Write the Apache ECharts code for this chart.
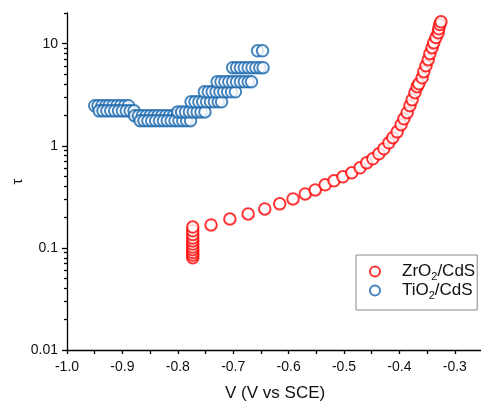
<!DOCTYPE html>
<html>
<head>
<meta charset="utf-8">
<script src="https://cdn.jsdelivr.net/npm/echarts@6/dist/echarts.min.js"></script>
<style>
  html, body { margin: 0; padding: 0; background: #fff; }
  #chart { width: 481px; height: 403px; }
</style>
</head>
<body>
<div id="chart"></div>
<script>
// ZrO2/CdS (red) - voltage and tau
const zrV = [
  -0.773, -0.773, -0.773, -0.773, -0.773, -0.773, -0.773, -0.773, -0.773, -0.773, -0.773,
  -0.740, -0.706, -0.673, -0.643, -0.616, -0.592, -0.570, -0.552, -0.534, -0.518,
  -0.502, -0.486, -0.471, -0.459, -0.448, -0.437, -0.428, -0.419, -0.412, -0.404,
  -0.397, -0.392, -0.386, -0.381, -0.377, -0.372, -0.368, -0.365, -0.359, -0.356,
  -0.352, -0.348, -0.345, -0.341, -0.338, -0.334, -0.330, -0.329, -0.327, -0.325
];
const zrTau = [
  0.080, 0.085, 0.090, 0.096, 0.102, 0.109, 0.117, 0.125, 0.135, 0.147, 0.160,
  0.168, 0.192, 0.215, 0.241, 0.270, 0.302, 0.338, 0.370, 0.415, 0.454,
  0.497, 0.544, 0.609, 0.681, 0.746, 0.835, 0.935, 1.07, 1.20, 1.37,
  1.61, 1.84, 2.11, 2.47, 2.82, 3.31, 3.79, 4.05, 4.64, 5.32,
  6.08, 6.97, 7.98, 9.14, 10.2, 11.5, 12.8, 14.0, 15.4, 16.4
];

// TiO2/CdS (blue)
const tiV = [
  -0.950, -0.944, -0.937, -0.930, -0.924, -0.917, -0.910, -0.903, -0.896, -0.889,
  -0.942, -0.935, -0.928, -0.921, -0.914, -0.907, -0.900, -0.893, -0.886, -0.879,
  -0.878, -0.871, -0.864, -0.857, -0.850, -0.843, -0.836, -0.829, -0.822, -0.815, -0.808, -0.801, -0.794,
  -0.868, -0.861, -0.854, -0.847, -0.840, -0.833, -0.826, -0.819, -0.812, -0.805, -0.798, -0.791, -0.784, -0.777,
  -0.800, -0.793, -0.786, -0.779, -0.772, -0.765, -0.758, -0.751,
  -0.776, -0.769, -0.762, -0.755, -0.748, -0.741, -0.734, -0.727, -0.721,
  -0.752, -0.745, -0.738, -0.731, -0.724, -0.717, -0.710, -0.703, -0.696,
  -0.729, -0.722, -0.715, -0.708, -0.701, -0.694, -0.687, -0.680, -0.673, -0.667,
  -0.701, -0.694, -0.687, -0.680, -0.673, -0.666, -0.659, -0.652, -0.646,
  -0.656, -0.647
];
const tiTau = [
  2.47, 2.47, 2.47, 2.47, 2.47, 2.47, 2.47, 2.47, 2.47, 2.47,
  2.20, 2.20, 2.20, 2.20, 2.20, 2.20, 2.20, 2.20, 2.20, 2.20,
  1.97, 1.97, 1.97, 1.97, 1.97, 1.97, 1.97, 1.97, 1.97, 1.97, 1.97, 1.97, 1.97,
  1.76, 1.76, 1.76, 1.76, 1.76, 1.76, 1.76, 1.76, 1.76, 1.76, 1.76, 1.76, 1.76, 1.76,
  2.15, 2.15, 2.15, 2.15, 2.15, 2.15, 2.15, 2.15,
  2.70, 2.70, 2.70, 2.70, 2.70, 2.70, 2.70, 2.70, 2.70,
  3.38, 3.38, 3.38, 3.38, 3.38, 3.38, 3.38, 3.38, 3.38,
  4.24, 4.24, 4.24, 4.24, 4.24, 4.24, 4.24, 4.24, 4.24, 4.24,
  5.82, 5.82, 5.82, 5.82, 5.82, 5.82, 5.82, 5.82, 5.82,
  8.53, 8.53
];

const xTicks = [-1.0, -0.9, -0.8, -0.7, -0.6, -0.5, -0.4, -0.3];
const xAllTicks = [
  -1.0, -0.95, -0.9, -0.85, -0.8, -0.75, -0.7, -0.65,
  -0.6, -0.55, -0.5, -0.45, -0.4, -0.35, -0.3
];
const yTicks = [0.01, 0.1, 1, 10];
const yMinorTicks = [
  0.02, 0.03, 0.04, 0.05, 0.06, 0.07, 0.08, 0.09,
  0.2, 0.3, 0.4, 0.5, 0.6, 0.7, 0.8, 0.9,
  2, 3, 4, 5, 6, 7, 8, 9, 20
];

const font = 'Liberation Sans, Arial, sans-serif';
const zip = (xs, ys) => xs.map((x, i) => [x, ys[i]]);

const chart = echarts.init(document.getElementById('chart'));

const baseY = { type: 'log', position: 'left', logBase: 10, min: 0.01, max: 20, splitLine: { show: false } };
const lineStyle = { color: '#000', width: 1.3 };

const option = {
  animation: false,
  backgroundColor: '#fff',
  // x runs to -0.2, the part past the right edge of the page is cut off as in the original
  grid: { left: 67, top: 13, width: 443.2, height: 337, outerBoundsMode: 'none' },
  xAxis: {
    type: 'value',
    position: 'bottom',
    min: -1.0,
    max: -0.2,
    interval: 0.1,
    splitLine: { show: false },
    name: 'V (V vs SCE)',
    nameLocation: 'middle',
    nameGap: 35,
    nameMoveOverlap: false,
    nameTextStyle: { fontFamily: font, fontSize: 17, color: '#111', padding: [0, 27, 0, 0] },
    axisLine: { onZero: false, lineStyle: lineStyle },
    axisTick: {
      interval: 0,
      length: 4,
      lineStyle: { color: '#000', width: 1.3 },
      customValues: xAllTicks
    },
    axisLabel: {
      interval: 0,
      customValues: xTicks, margin: 10, fontFamily: font, fontSize: 14, color: '#111',
      formatter: v => v.toFixed(1)
    }
  },
  yAxis: [
    Object.assign({}, baseY, {
      name: 'τ',
      nameLocation: 'middle',
      nameGap: 42,
      nameMoveOverlap: false,
      nameTextStyle: { fontFamily: font, fontSize: 15, color: '#111' },
      axisLine: { onZero: false, lineStyle: lineStyle },
      axisTick: { length: 5, lineStyle: lineStyle, customValues: yTicks },
      axisLabel: {
        customValues: yTicks, margin: 9, fontFamily: font, fontSize: 14, color: '#111',
        formatter: v => String(v)
      }
    }),
    Object.assign({}, baseY, {
      axisLine: { show: true, onZero: false, lineStyle: { color: 'rgba(0,0,0,0)' } },
      axisTick: { length: 3, lineStyle: lineStyle, customValues: yMinorTicks },
      axisLabel: { show: false }
    })
  ],
  legend: {
    orient: 'vertical',
    left: 356,
    top: 255,
    padding: [8, 2, 9, 13],
    itemGap: 0,
    itemWidth: 10,
    itemHeight: 10,
    borderColor: '#888',
    borderWidth: 1,
    data: ['ZrO2/CdS', 'TiO2/CdS'],
    formatter: name => {
      const parts = name.split('2');
      return '{n|' + parts[0] + '}{s|2}{n|' + parts[1] + '}';
    },
    textStyle: {
      padding: [0, 0, 0, 17],
      rich: {
        n: { fontFamily: font, fontSize: 17, color: '#111', lineHeight: 20 },
        s: { fontFamily: font, fontSize: 11, color: '#111', padding: [10, 0, 0, 0] }
      }
    }
  },
  series: [
    {
      name: 'ZrO2/CdS',
      type: 'scatter',
      symbol: 'circle',
      symbolSize: 11.5,
      itemStyle: { color: '#fff', borderColor: '#ff0000', borderWidth: 2 },
      data: zip(zrV, zrTau)
    },
    {
      name: 'TiO2/CdS',
      type: 'scatter',
      symbol: 'circle',
      symbolSize: 11.5,
      itemStyle: { color: '#fff', borderColor: '#1866ad', borderWidth: 2 },
      data: zip(tiV, tiTau)
    }
  ]
};

chart.setOption(option);
</script>
</body>
</html>
